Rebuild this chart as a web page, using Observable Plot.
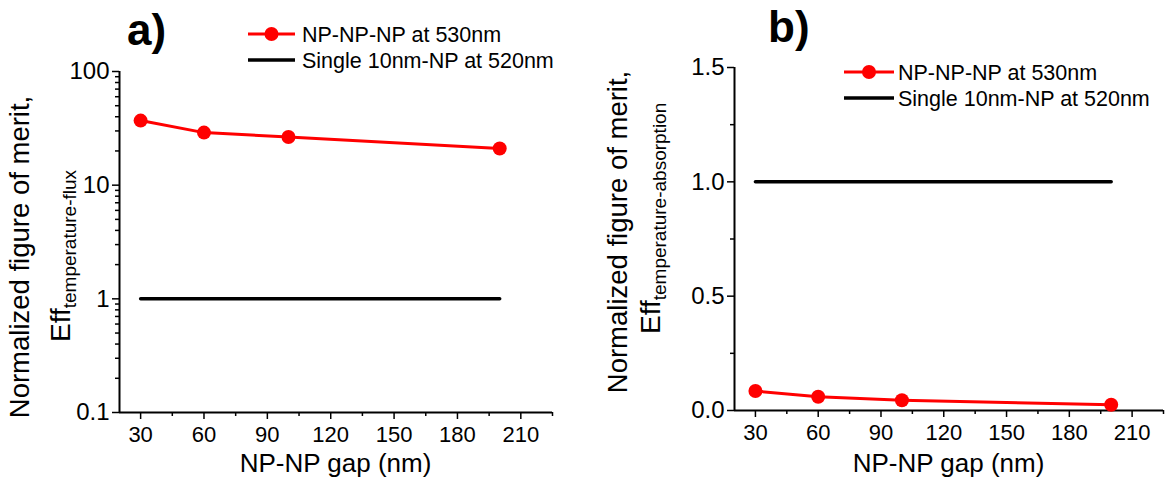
<!DOCTYPE html>
<html><head><meta charset="utf-8">
<script src="https://cdn.jsdelivr.net/npm/d3@7"></script>
<script src="https://cdn.jsdelivr.net/npm/@observablehq/plot@0.6"></script>
<style>
body{margin:0;background:#fff;}
#wrap{position:relative;width:1165px;height:484px;overflow:hidden;font-family:"Liberation Sans",Arial,sans-serif;}
#wrap svg{position:absolute;top:0;overflow:visible;}
</style></head><body><div id="wrap"></div>
<script>
// ---- data ----
const gaps = [30, 60, 100, 200];
const fluxNPNPNP = [37, 29, 26.5, 21];
const absorptionNPNPNP = [0.085, 0.06, 0.045, 0.025];
const singleNPGaps = [30, 200];
const singleNPValue = [1, 1];
const seriesNames = ["NP-NP-NP at 530nm", "Single 10nm-NP at 520nm"];
const xTicks = [30, 60, 90, 120, 150, 180, 210];
const xMinorTicks = [45, 75, 105, 135, 165, 195, 225];
const logMajorTicks = [0.1, 1, 10, 100];
const logMinorTicks = [0.2,0.3,0.4,0.5,0.6,0.7,0.8,0.9, 2,3,4,5,6,7,8,9, 20,30,40,50,60,70,80,90];
const linMajorTicks = [0, 0.5, 1.0, 1.5];
const linMinorTicks = [0.25, 0.75, 1.25];
const xLabel = "NP-NP gap (nm)";
const yLabelLine1 = "Normalized figure of merit,";
const yLabelMain = "Eff";
const yLabelSubA = "temperature-flux";
const yLabelSubB = "temperature-absorption";
const panelLabels = ["a)", "b)"];

const FONT = '"Liberation Sans", Arial, sans-serif';
const RED = "#ff0000";

function panel(o) {
  const npData = gaps.map((g, i) => ({gap: g, v: o.values[i]}));
  const single = singleNPGaps.map((g, i) => ({gap: g, v: singleNPValue[i]}));
  const svg = Plot.plot({
    width: o.width, height: 484,
    marginLeft: o.ml, marginRight: o.mr, marginTop: o.mt, marginBottom: o.mb,
    style: {fontFamily: FONT, color: "#000", background: "transparent", overflow: "visible"},
    x: {domain: [20, 225]},
    y: {type: o.yType, domain: o.yDomain},
    marks: [
      Plot.axisX({ticks: xTicks, tickSize: 7, tickPadding: 7, tickFormat: d => String(d), label: null, fontSize: 22, strokeWidth: 1.5}),
      Plot.axisX({ticks: xMinorTicks, tickSize: 4, tickFormat: () => "", label: null, strokeWidth: 1.5}),
      Plot.axisY({ticks: o.yMajor, tickSize: 7, tickPadding: 3, tickFormat: o.yFormat, label: null, fontSize: 24, strokeWidth: 1.5}),
      Plot.axisY({ticks: o.yMinor, tickSize: 4, tickFormat: () => "", label: null, strokeWidth: 1.5}),
      Plot.ruleY([o.yDomain[0]], {stroke: "#000", strokeWidth: 2}),
      Plot.ruleX([20], {stroke: "#000", strokeWidth: 2}),
      Plot.line(single, {x: "gap", y: "v", stroke: "#000", strokeWidth: 3.5}),
      Plot.line(npData, {x: "gap", y: "v", stroke: RED, strokeWidth: 3}),
      Plot.dot(npData, {x: "gap", y: "v", r: 7, fill: RED, stroke: "none"})
    ]
  });
  svg.style.left = o.left + "px";
  const s = d3.select(svg);
  // panel label
  s.append("text").attr("x", o.pl[0]).attr("y", o.pl[1]).attr("text-anchor", "start")
    .attr("font-family", FONT).attr("font-size", 44).attr("font-weight", "bold").text(o.panelLabel);
  // legend
  const lg = o.legend;
  s.append("line").attr("x1", lg.x1).attr("x2", lg.x2).attr("y1", lg.y1).attr("y2", lg.y1)
    .attr("stroke", RED).attr("stroke-width", 3);
  s.append("circle").attr("cx", (lg.x1 + lg.x2) / 2).attr("cy", lg.y1).attr("r", 7).attr("fill", RED);
  s.append("line").attr("x1", lg.x1).attr("x2", lg.x2).attr("y1", lg.y2).attr("y2", lg.y2)
    .attr("stroke", "#000").attr("stroke-width", 3.5);
  [lg.y1, lg.y2].forEach((y, i) => {
    s.append("text").attr("x", lg.tx).attr("y", y).attr("dy", "0.36em").attr("text-anchor", "start")
      .attr("font-family", FONT).attr("font-size", 21.5).text(seriesNames[i]);
  });
  // x label
  s.append("text").attr("x", (o.ml + o.width - o.mr) / 2).attr("y", 472)
    .attr("text-anchor", "middle").attr("font-family", FONT).attr("font-size", 26).text(xLabel);
  // y label line 1
  s.append("text").attr("transform", `translate(${o.y1[0]},${o.y1[1]}) rotate(-90)`)
    .attr("text-anchor", "middle").attr("font-family", FONT).attr("font-size", 27.5).text(yLabelLine1);
  // y label line 2
  const t2 = s.append("text").attr("transform", `translate(${o.y2[0]},${o.y2[1]}) rotate(-90)`)
    .attr("text-anchor", "start").attr("font-family", FONT).attr("font-size", 28);
  t2.append("tspan").text(yLabelMain);
  t2.append("tspan").attr("dy", 6).attr("font-size", 19).text(o.sub);
  return svg;
}

const wrap = document.getElementById("wrap");
wrap.appendChild(panel({
  left: 0, width: 580, ml: 119, mr: 28, mt: 71, mb: 72,
  yType: "log", yDomain: [0.1, 100], yMajor: logMajorTicks, yMinor: logMinorTicks,
  yFormat: d => String(d), values: fluxNPNPNP,
  panelLabel: panelLabels[0], pl: [127, 45],
  legend: {x1: 248, x2: 295, tx: 302, y1: 34, y2: 60},
  y1: [29, 257], y2: [70, 342], sub: yLabelSubA
}));
wrap.appendChild(panel({
  left: 600, width: 565, ml: 134, mr: 2, mt: 67, mb: 74,
  yType: "linear", yDomain: [0, 1.5], yMajor: linMajorTicks, yMinor: linMinorTicks,
  yFormat: d => d.toFixed(1), values: absorptionNPNPNP,
  panelLabel: panelLabels[1], pl: [168, 42],
  legend: {x1: 244, x2: 294, tx: 298, y1: 72, y2: 98},
  y1: [27, 232], y2: [60, 334], sub: yLabelSubB
}));
</script></body></html>
